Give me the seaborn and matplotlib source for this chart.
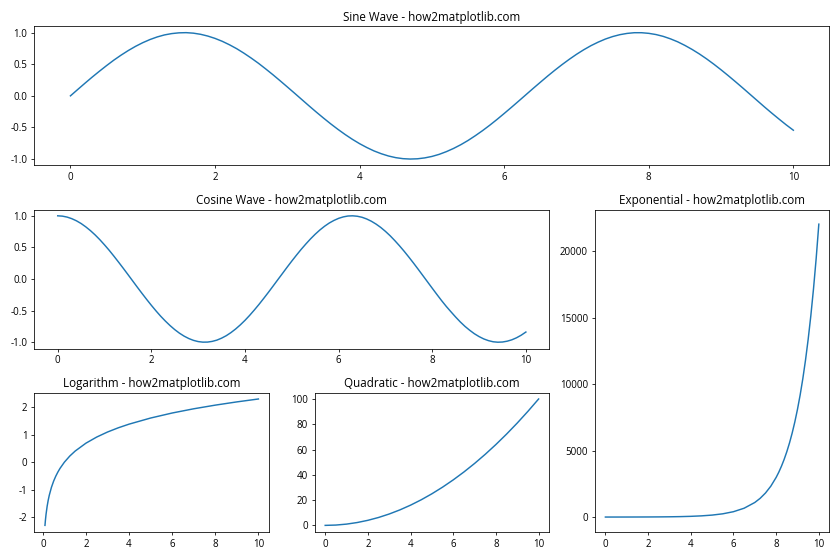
import matplotlib
matplotlib.use("Agg")
import matplotlib.pyplot as plt
import seaborn as sns
import pandas as pd

# --- data ---
wave_x = [i / 10 for i in range(101)]
sine_y = [0.000, 0.100, 0.199, 0.296, 0.389, 0.479, 0.565, 0.644, 0.717, 0.783,
          0.841, 0.891, 0.932, 0.964, 0.985, 0.997, 1.000, 0.992, 0.974, 0.946,
          0.909, 0.863, 0.808, 0.746, 0.675, 0.598, 0.516, 0.427, 0.335, 0.239,
          0.141, 0.042, -0.058, -0.158, -0.256, -0.351, -0.443, -0.530, -0.612, -0.688,
          -0.757, -0.818, -0.872, -0.916, -0.952, -0.978, -0.994, -1.000, -0.996, -0.982,
          -0.959, -0.926, -0.883, -0.832, -0.773, -0.706, -0.631, -0.551, -0.465, -0.374,
          -0.279, -0.182, -0.083, 0.017, 0.117, 0.215, 0.312, 0.405, 0.494, 0.578,
          0.657, 0.729, 0.794, 0.850, 0.899, 0.938, 0.968, 0.988, 0.999, 0.999,
          0.989, 0.970, 0.941, 0.902, 0.855, 0.798, 0.734, 0.663, 0.585, 0.501,
          0.412, 0.319, 0.223, 0.125, 0.025, -0.075, -0.175, -0.272, -0.366, -0.458,
          -0.544]
cosine_y = [1.000, 0.995, 0.980, 0.955, 0.921, 0.878, 0.825, 0.765, 0.697, 0.622,
            0.540, 0.454, 0.362, 0.267, 0.170, 0.071, -0.029, -0.129, -0.227, -0.323,
            -0.416, -0.505, -0.589, -0.666, -0.737, -0.801, -0.857, -0.904, -0.942, -0.971,
            -0.990, -0.999, -0.998, -0.987, -0.967, -0.936, -0.897, -0.848, -0.791, -0.726,
            -0.654, -0.575, -0.490, -0.401, -0.307, -0.211, -0.112, -0.012, 0.087, 0.187,
            0.284, 0.378, 0.469, 0.554, 0.635, 0.709, 0.776, 0.835, 0.886, 0.927,
            0.960, 0.983, 0.997, 1.000, 0.993, 0.977, 0.950, 0.914, 0.869, 0.816,
            0.754, 0.685, 0.608, 0.526, 0.439, 0.347, 0.252, 0.154, 0.054, -0.046,
            -0.146, -0.245, -0.342, -0.434, -0.519, -0.602, -0.680, -0.750, -0.811, -0.866,
            -0.911, -0.948, -0.975, -0.993, -1.000, -0.997, -0.984, -0.962, -0.930, -0.889,
            -0.839]

log_x = [0.1, 0.12, 0.15, 0.2, 0.25, 0.3, 0.4, 0.5, 0.6, 0.7, 0.8, 1.0, 1.25, 1.5,
         2.0, 2.5, 3.0, 3.5, 4.0, 5.0, 6.0, 7.0, 8.0, 9.0, 10.0]
log_y = [-2.303, -2.120, -1.897, -1.609, -1.386, -1.204, -0.916, -0.693, -0.511, -0.357,
         -0.223, 0.000, 0.223, 0.405, 0.693, 0.916, 1.099, 1.253, 1.386, 1.609,
         1.792, 1.946, 2.079, 2.197, 2.303]

quad_x = [i * 0.5 for i in range(21)]
quad_y = [0, 0.25, 1, 2.25, 4, 6.25, 9, 12.25, 16, 20.25, 25, 30.25, 36, 42.25,
          49, 56.25, 64, 72.25, 81, 90.25, 100]

exp_x = [0, 0.5, 1, 1.5, 2, 2.5, 3, 3.5, 4, 4.5, 5, 5.5, 6, 6.5, 7, 7.25, 7.5, 7.75,
         8, 8.125, 8.25, 8.375, 8.5, 8.625, 8.75, 8.875, 9, 9.125, 9.25, 9.375,
         9.5, 9.625, 9.75, 9.875, 10]
exp_y = [1, 1.65, 2.72, 4.48, 7.39, 12.18, 20.09, 33.12, 54.60, 90.02, 148.4, 244.7,
         403.4, 665.1, 1096.6, 1408.1, 1808.0, 2321.6,
         2981.0, 3377.8, 3827.6, 4337.1, 4914.8, 5569.0, 6310.7, 7150.7, 8103.1, 9181.6,
         10404.6, 11789.5, 13359.7, 15137.9, 17154.2, 19437.4, 22026.5]

titles = ["Sine Wave - how2matplotlib.com", "Cosine Wave - how2matplotlib.com",
          "Exponential - how2matplotlib.com", "Logarithm - how2matplotlib.com",
          "Quadratic - how2matplotlib.com"]

plt.rcParams['font.family'] = ['Open Sans', 'DejaVu Sans']
plt.rcParams['axes.unicode_minus'] = False

fig = plt.figure(figsize=(12, 8), dpi=70)
gs = fig.add_gridspec(3, 3)
ax1 = fig.add_subplot(gs[0, :])
ax2 = fig.add_subplot(gs[1, :-1])
ax3 = fig.add_subplot(gs[1:, -1])
ax4 = fig.add_subplot(gs[-1, 0])
ax5 = fig.add_subplot(gs[-1, -2])

series = [(ax1, wave_x, sine_y), (ax2, wave_x, cosine_y), (ax3, exp_x, exp_y),
          (ax4, log_x, log_y), (ax5, quad_x, quad_y)]
for (ax, xs, ys), title in zip(series, titles):
    df = pd.DataFrame({"x": xs, "y": ys})
    sns.lineplot(data=df, x="x", y="y", ax=ax, color="#1f77b4")
    ax.set_title(title)
    ax.set_xlabel("")
    ax.set_ylabel("")

fig.tight_layout()
fig.savefig("out.png", dpi=70)
